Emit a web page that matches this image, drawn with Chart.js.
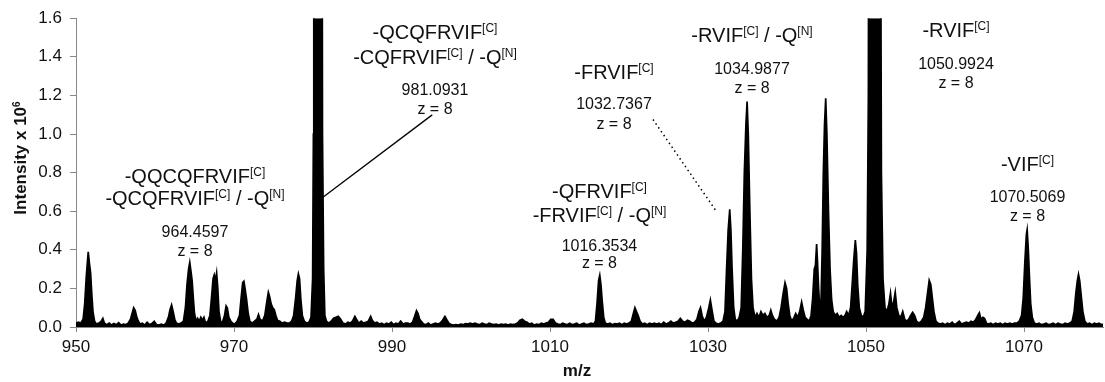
<!DOCTYPE html>
<html>
<head>
<meta charset="utf-8">
<script src="https://cdn.jsdelivr.net/npm/chart.js@4.4.1/dist/chart.umd.min.js"></script>
<style>
  html, body { margin: 0; padding: 0; background: #fff; }
  #wrap { position: relative; width: 1105px; height: 382px; }
  canvas { display: block; }
</style>
</head>
<body>
<div id="wrap"><canvas id="c" width="1105" height="382"></canvas></div>
<script>
// ---------------- DATA ----------------
const xTickValues = [950, 970, 990, 1010, 1030, 1050, 1070];
const yTickValues = [0, 0.2, 0.4, 0.6, 0.8, 1.0, 1.2, 1.4, 1.6];
const xAxisTitle = 'm/z';
const yAxisTitle = 'Intensity x 10^{6}';

// spectrum: [m/z, intensity x 10^6]
const spectrum950to982 = [
  [950.0,0.02],[950.3,0.025],[950.6,0.02],[950.9,0.04],[951.1,0.12],[951.3,0.26],[951.45,0.34],[951.55,0.39],[951.7,0.33],[951.85,0.28],
  [952.0,0.17],[952.15,0.08],[952.35,0.03],[952.6,0.015],[952.9,0.02],[953.2,0.03],[953.4,0.045],[953.6,0.02],[953.9,0.012],[954.2,0.02],
  [954.5,0.01],[954.8,0.018],[955.1,0.012],[955.4,0.022],[955.7,0.01],[956.0,0.015],[956.3,0.012],[956.6,0.02],[956.9,0.04],[957.1,0.07],
  [957.3,0.1],[957.5,0.085],[957.7,0.05],[957.9,0.03],[958.1,0.015],[958.4,0.02],[958.7,0.01],[959.0,0.025],[959.3,0.012],[959.6,0.018],
  [959.9,0.03],[960.2,0.012],[960.5,0.01],[960.8,0.015],[961.1,0.01],[961.4,0.02],[961.7,0.05],[961.9,0.09],[962.1,0.115],[962.3,0.08],
  [962.5,0.04],[962.7,0.02],[963.0,0.015],[963.3,0.02],[963.6,0.03],[963.85,0.1],[964.05,0.22],[964.25,0.3],[964.4,0.335],[964.55,0.29],
  [964.7,0.24],[964.85,0.15],[965.0,0.07],[965.2,0.03],[965.4,0.045],[965.6,0.03],[965.8,0.05],[966.0,0.035],[966.2,0.05],[966.4,0.02],
  [966.7,0.03],[966.95,0.06],[967.15,0.15],[967.35,0.25],[967.5,0.27],[967.65,0.24],[967.8,0.28],[967.95,0.2],[968.1,0.08],[968.3,0.03],
  [968.5,0.02],[968.8,0.06],[969.0,0.11],[969.15,0.1],[969.35,0.05],[969.6,0.03],[969.8,0.02],[970.1,0.015],[970.4,0.03],[970.7,0.06],
  [970.9,0.15],[971.1,0.23],[971.25,0.237],[971.4,0.2],[971.6,0.14],[971.8,0.07],[972.0,0.03],[972.3,0.02],[972.6,0.03],[972.9,0.04],
  [973.1,0.065],[973.3,0.04],[973.6,0.03],[973.9,0.06],[974.15,0.13],[974.35,0.18],[974.5,0.16],[974.7,0.12],[974.9,0.1],[975.1,0.09],
  [975.3,0.06],[975.5,0.035],[975.8,0.03],[976.1,0.02],[976.4,0.025],[976.7,0.02],[977.0,0.02],[977.3,0.03],[977.55,0.06],[977.8,0.15],
  [978.0,0.24],[978.15,0.275],[978.3,0.25],[978.45,0.15],[978.65,0.06],[978.9,0.03],[979.2,0.02],[979.5,0.025],[979.75,0.05],[979.95,0.25],
  [980.05,1.0],[980.1,4.0],[980.6,8.0],[981.1,4.0],[981.2,1.0],[981.35,0.3],[981.5,0.06],[981.7,0.03],[982.0,0.02]
];
const spectrum982to1031 = [
  [982.3,0.03],[982.6,0.045],[982.9,0.05],[983.2,0.055],[983.5,0.04],[983.8,0.02],[984.1,0.015],[984.4,0.025],[984.7,0.02],[985.0,0.03],
  [985.3,0.055],[985.5,0.04],[985.8,0.02],[986.1,0.03],[986.4,0.02],[986.7,0.025],[987.0,0.03],[987.3,0.055],[987.5,0.035],[987.8,0.02],
  [988.1,0.025],[988.4,0.015],[988.7,0.02],[989.0,0.012],[989.3,0.02],[989.6,0.015],[989.9,0.025],[990.2,0.012],[990.5,0.02],[990.8,0.015],
  [991.1,0.03],[991.4,0.015],[991.7,0.02],[992.0,0.02],[992.3,0.015],[992.6,0.025],[992.9,0.06],[993.1,0.085],[993.3,0.07],[993.5,0.04],
  [993.7,0.03],[994.0,0.015],[994.3,0.012],[994.6,0.02],[994.9,0.01],[995.2,0.015],[995.5,0.02],[995.8,0.015],[996.1,0.02],[996.4,0.035],
  [996.7,0.055],[996.9,0.04],[997.2,0.02],[997.5,0.012],[997.8,0.01],[998.1,0.012],[998.4,0.01],[998.7,0.015],[999.0,0.012],[999.3,0.018],
  [999.6,0.015],[999.9,0.02],[1000.2,0.015],[1000.5,0.02],[1000.8,0.015],[1001.1,0.012],[1001.4,0.02],[1001.7,0.015],[1002.0,0.012],[1002.3,0.02],
  [1002.6,0.015],[1002.9,0.012],[1003.2,0.015],[1003.5,0.01],[1003.8,0.015],[1004.1,0.012],[1004.4,0.015],[1004.7,0.01],[1005.0,0.015],[1005.3,0.012],
  [1005.6,0.015],[1005.9,0.02],[1006.2,0.035],[1006.5,0.04],[1006.8,0.03],[1007.1,0.025],[1007.4,0.015],[1007.7,0.02],[1008.0,0.01],[1008.3,0.015],
  [1008.6,0.012],[1008.9,0.02],[1009.2,0.015],[1009.5,0.02],[1009.8,0.025],[1010.1,0.04],[1010.4,0.04],[1010.7,0.02],[1011.0,0.015],[1011.3,0.012],
  [1011.6,0.02],[1011.9,0.015],[1012.2,0.012],[1012.5,0.02],[1012.8,0.012],[1013.1,0.015],[1013.4,0.02],[1013.7,0.01],[1014.0,0.015],[1014.3,0.02],
  [1014.6,0.012],[1014.9,0.015],[1015.2,0.02],[1015.5,0.015],[1015.75,0.03],[1015.95,0.12],[1016.15,0.24],[1016.3,0.268],[1016.45,0.22],[1016.6,0.14],
  [1016.8,0.05],[1017.0,0.02],[1017.3,0.015],[1017.6,0.02],[1017.9,0.012],[1018.2,0.018],[1018.5,0.015],[1018.8,0.02],[1019.1,0.012],[1019.4,0.02],
  [1019.7,0.015],[1020.0,0.02],[1020.3,0.03],[1020.55,0.07],[1020.75,0.1],[1020.95,0.08],[1021.15,0.06],[1021.4,0.03],[1021.7,0.015],[1022.0,0.02],
  [1022.3,0.012],[1022.6,0.02],[1022.9,0.015],[1023.2,0.02],[1023.5,0.015],[1023.8,0.02],[1024.1,0.012],[1024.4,0.025],[1024.7,0.015],[1025.0,0.02],
  [1025.3,0.03],[1025.6,0.02],[1025.9,0.025],[1026.2,0.03],[1026.5,0.045],[1026.8,0.03],[1027.1,0.025],[1027.4,0.035],[1027.7,0.03],[1028.0,0.02],
  [1028.3,0.025],[1028.6,0.04],[1028.85,0.08],[1029.05,0.1],[1029.25,0.06],[1029.5,0.03],[1029.8,0.05],[1030.1,0.1],[1030.3,0.14],[1030.5,0.09],
  [1030.75,0.03],[1031.0,0.02]
];
const spectrum1031to1080 = [
  [1031.3,0.015],[1031.6,0.02],[1031.9,0.03],[1032.15,0.08],[1032.35,0.3],[1032.55,0.5],[1032.75,0.61],[1032.9,0.5],[1033.05,0.3],[1033.25,0.1],
  [1033.45,0.04],[1033.7,0.03],[1033.95,0.05],[1034.2,0.1],[1034.4,0.4],[1034.6,0.8],[1034.8,1.05],[1034.95,1.168],[1035.1,1.0],[1035.3,0.6],
  [1035.5,0.25],[1035.7,0.1],[1035.95,0.05],[1036.2,0.07],[1036.45,0.05],[1036.7,0.08],[1036.95,0.06],[1037.2,0.07],[1037.45,0.05],[1037.75,0.06],
  [1037.95,0.087],[1038.15,0.06],[1038.4,0.04],[1038.7,0.03],[1039.0,0.05],[1039.25,0.1],[1039.5,0.17],[1039.75,0.23],[1039.95,0.2],[1040.15,0.12],
  [1040.35,0.06],[1040.6,0.03],[1040.9,0.05],[1041.1,0.07],[1041.35,0.05],[1041.6,0.08],[1041.85,0.13],[1042.05,0.09],[1042.3,0.05],[1042.55,0.04],
  [1042.8,0.03],[1043.05,0.06],[1043.25,0.15],[1043.45,0.3],[1043.6,0.32],[1043.75,0.43],[1043.85,0.35],[1044.0,0.2],[1044.15,0.1],[1044.3,0.12],
  [1044.45,0.4],[1044.6,0.8],[1044.75,1.05],[1044.9,1.185],[1045.05,1.0],[1045.25,0.6],[1045.45,0.3],[1045.65,0.14],[1045.85,0.08],[1046.1,0.06],
  [1046.35,0.07],[1046.6,0.05],[1046.85,0.06],[1047.1,0.05],[1047.35,0.06],[1047.55,0.08],[1047.8,0.06],[1048.05,0.1],[1048.25,0.22],[1048.45,0.35],
  [1048.65,0.45],[1048.8,0.38],[1048.95,0.22],[1049.15,0.1],[1049.4,0.06],[1049.65,0.05],[1049.9,0.08],[1050.15,0.4],[1050.3,1.2],[1050.4,4.0],
  [1051.1,9.0],[1051.8,3.0],[1051.95,0.8],[1052.15,0.25],[1052.4,0.1],[1052.65,0.08],[1052.9,0.12],[1053.1,0.175],[1053.3,0.1],[1053.5,0.13],
  [1053.7,0.18],[1053.9,0.1],[1054.15,0.06],[1054.4,0.05],[1054.65,0.08],[1054.9,0.04],[1055.15,0.03],[1055.4,0.04],[1055.65,0.06],[1055.9,0.076],
  [1056.15,0.06],[1056.4,0.03],[1056.7,0.02],[1057.0,0.03],[1057.3,0.05],[1057.55,0.1],[1057.8,0.18],[1058.0,0.242],[1058.2,0.22],[1058.4,0.15],
  [1058.6,0.08],[1058.85,0.03],[1059.1,0.02],[1059.4,0.015],[1059.7,0.02],[1060.0,0.012],[1060.3,0.02],[1060.6,0.015],[1060.9,0.025],[1061.2,0.012],
  [1061.5,0.02],[1061.8,0.03],[1062.1,0.015],[1062.4,0.02],[1062.7,0.025],[1063.0,0.02],[1063.3,0.03],[1063.6,0.025],[1063.9,0.04],[1064.15,0.06],
  [1064.35,0.074],[1064.55,0.04],[1064.8,0.05],[1065.0,0.045],[1065.25,0.02],[1065.5,0.015],[1065.8,0.02],[1066.1,0.012],[1066.4,0.02],[1066.7,0.015],
  [1067.0,0.02],[1067.3,0.012],[1067.6,0.02],[1067.9,0.015],[1068.2,0.02],[1068.5,0.015],[1068.8,0.02],[1069.1,0.02],[1069.4,0.03],[1069.7,0.06],
  [1069.9,0.15],[1070.1,0.33],[1070.3,0.48],[1070.4,0.504],[1070.55,0.4],[1070.7,0.25],[1070.85,0.12],[1071.05,0.05],[1071.3,0.02],[1071.6,0.015],
  [1071.9,0.02],[1072.2,0.012],[1072.5,0.015],[1072.8,0.02],[1073.1,0.012],[1073.4,0.015],[1073.7,0.02],[1074.0,0.012],[1074.3,0.02],[1074.6,0.015],
  [1074.9,0.012],[1075.2,0.02],[1075.5,0.015],[1075.8,0.02],[1076.1,0.03],[1076.35,0.08],[1076.55,0.17],[1076.75,0.24],[1076.9,0.273],[1077.05,0.24],
  [1077.25,0.16],[1077.45,0.08],[1077.7,0.03],[1078.0,0.015],[1078.3,0.02],[1078.6,0.012],[1078.9,0.02],[1079.2,0.015],[1079.5,0.02],[1079.8,0.012],
  [1080.0,0.015]
];

// annotation texts (^{...} = superscript)
const labelA = ['-QQCQFRVIF^{[C]}', '-QCQFRVIF^{[C]} / -Q^{[N]}', '964.4597', 'z = 8'];
const labelB = ['-QCQFRVIF^{[C]}', '-CQFRVIF^{[C]} / -Q^{[N]}', '981.0931', 'z = 8'];
const labelC = ['-QFRVIF^{[C]}', '-FRVIF^{[C]} / -Q^{[N]}', '1016.3534', 'z = 8'];
const labelD = ['-FRVIF^{[C]}', '1032.7367', 'z = 8'];
const labelE = ['-RVIF^{[C]} / -Q^{[N]}', '1034.9877', 'z = 8'];
const labelF = ['-RVIF^{[C]}', '1050.9924', 'z = 8'];
const labelG = ['-VIF^{[C]}', '1070.5069', 'z = 8'];

// ---------------- LAYOUT / STYLE ----------------
const FAMILY = '"Liberation Sans", Arial, Helvetica, sans-serif';
const BIG = 20, NUM = 16;
// anchor (m/z) and text baselines (intensity units) for each annotation block
const annotationBlocks = [
  { texts: labelA, x: 965.06, ys: [0.746, 0.633, 0.468, 0.370], sizes: [BIG, BIG, NUM, NUM] },
  { texts: labelB, x: 995.44, ys: [1.492, 1.363, 1.204, 1.106], sizes: [BIG, BIG, NUM, NUM] },
  { texts: labelC, x: 1016.26, ys: [0.669, 0.545, 0.396, 0.304], sizes: [BIG, BIG, NUM, NUM] },
  { texts: labelD, x: 1018.1, ys: [1.286, 1.127, 1.024], sizes: [BIG, NUM, NUM] },
  { texts: labelE, x: 1035.57, ys: [1.477, 1.312, 1.214], sizes: [BIG, NUM, NUM] },
  { texts: labelF, x: 1061.39, ys: [1.502, 1.338, 1.240], sizes: [BIG, NUM, NUM] },
  { texts: labelG, x: 1070.44, ys: [0.808, 0.648, 0.550], sizes: [BIG, NUM, NUM] }
];
const leaderLines = [
  { from: [981.09, 0.667], to: [995.09, 1.099], dashed: false },
  { from: [1023.04, 1.075], to: [1031.01, 0.602], dashed: true }
];

function parseRich(str) {
  const parts = [];
  const re = /\^\{([^}]*)\}/g;
  let last = 0, m;
  while ((m = re.exec(str)) !== null) {
    if (m.index > last) parts.push({ t: str.slice(last, m.index), sup: false });
    parts.push({ t: m[1], sup: true });
    last = re.lastIndex;
  }
  if (last < str.length) parts.push({ t: str.slice(last), sup: false });
  return parts;
}

function drawRich(ctx, str, cx, by, size, bold) {
  const parts = parseRich(str);
  const w = bold ? 'bold ' : '';
  const supSize = Math.round(size * 0.6);
  let total = 0;
  parts.forEach(p => {
    ctx.font = w + (p.sup ? supSize : size) + 'px ' + FAMILY;
    p.w = ctx.measureText(p.t).width;
    total += p.w;
  });
  let x = cx - total / 2;
  ctx.textAlign = 'left';
  ctx.textBaseline = 'alphabetic';
  parts.forEach(p => {
    ctx.font = w + (p.sup ? supSize : size) + 'px ' + FAMILY;
    ctx.fillText(p.t, x, p.sup ? by - size * 0.36 : by);
    x += p.w;
  });
}

const annotationPlugin = {
  id: 'annot',
  afterDatasetsDraw(chart) {
    const ctx = chart.ctx;
    const xs = chart.scales.x, ys = chart.scales.y;
    ctx.save();
    ctx.fillStyle = '#111';
    annotationBlocks.forEach(b => {
      const px = xs.getPixelForValue(b.x);
      b.texts.forEach((t, i) => {
        drawRich(ctx, t, px, ys.getPixelForValue(b.ys[i]), b.sizes[i], false);
      });
    });
    leaderLines.forEach(l => {
      ctx.beginPath();
      ctx.strokeStyle = '#000';
      if (l.dashed) { ctx.setLineDash([1.5, 3.2]); ctx.lineWidth = 1.5; }
      else { ctx.setLineDash([]); ctx.lineWidth = 1.3; }
      ctx.moveTo(xs.getPixelForValue(l.from[0]), ys.getPixelForValue(l.from[1]));
      ctx.lineTo(xs.getPixelForValue(l.to[0]), ys.getPixelForValue(l.to[1]));
      ctx.stroke();
    });
    ctx.setLineDash([]);
    // axis titles
    ctx.fillStyle = '#111';
    drawRich(ctx, xAxisTitle, 577, 376, 17, true);
    ctx.save();
    ctx.translate(26, 158);
    ctx.rotate(-Math.PI / 2);
    drawRich(ctx, yAxisTitle, 0, 0, 17, true);
    ctx.restore();
    ctx.restore();
  }
};

const points = [].concat(spectrum950to982, spectrum982to1031, spectrum1031to1080)
  .map(p => ({ x: p[0], y: p[1] }));

new Chart(document.getElementById('c'), {
  type: 'line',
  data: {
    datasets: [{
      data: points,
      borderColor: '#000',
      backgroundColor: '#000',
      borderWidth: 1.7,
      fill: 'origin',
      pointRadius: 0,
      tension: 0
    }]
  },
  options: {
    responsive: false,
    animation: false,
    devicePixelRatio: 1,
    parsing: false,
    layout: { padding: { top: 16, right: 2, left: 0, bottom: 0 } },
    plugins: { legend: { display: false }, tooltip: { enabled: false }, title: { display: false } },
    scales: {
      x: {
        type: 'linear', min: 950, max: 1080,
        afterBuildTicks: s => { s.ticks = xTickValues.map(v => ({ value: v })); },
        afterFit: s => { s.height = 55; },
        grid: { drawOnChartArea: false, drawTicks: true, tickLength: 5, color: '#888' },
        border: { display: true, color: '#888', width: 1 },
        ticks: { font: { family: FAMILY, size: 17 }, color: '#111', padding: 5, maxRotation: 0, autoSkip: false,
                 callback: v => String(v) }
      },
      y: {
        type: 'linear', min: 0, max: 1.6,
        afterBuildTicks: s => { s.ticks = yTickValues.map(v => ({ value: v })); },
        afterFit: s => { s.width = 76; },
        grid: { drawOnChartArea: false, drawTicks: true, tickLength: 6, color: '#888' },
        border: { display: true, color: '#888', width: 1 },
        ticks: { font: { family: FAMILY, size: 17 }, color: '#111', padding: 8,
                 callback: v => Number(v).toFixed(1) }
      }
    }
  },
  plugins: [annotationPlugin]
});
</script>
</body>
</html>
